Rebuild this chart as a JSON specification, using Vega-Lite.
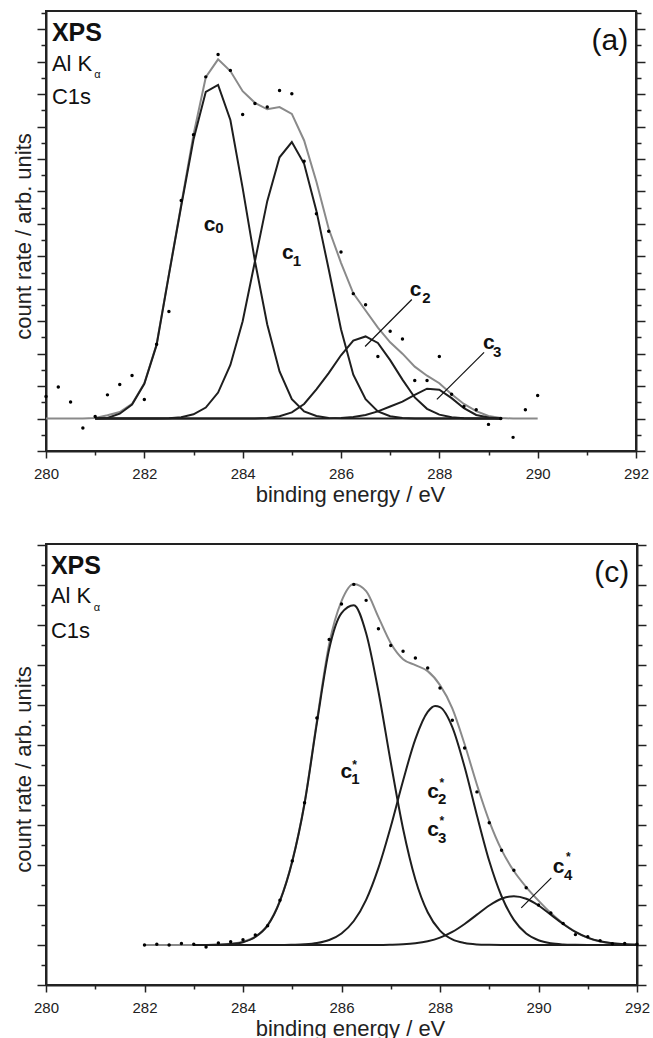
{
"$schema": "https://vega.github.io/schema/vega-lite/v6.json",
"padding": {"left": 11, "top": 10, "right": 0, "bottom": 0},
"spacing": 37,
"datasets": {
"tenv": [
{"E":280,"v":0},{"E":280.75,"v":0},{"E":281,"v":0.02},{"E":281.25,"v":0.1},{"E":281.5,"v":0.2},{"E":281.75,"v":0.45},{"E":282,"v":1.09},{"E":282.25,"v":2.29},{"E":282.5,"v":4.45},{"E":282.75,"v":6.59},{"E":283,"v":8.75},{"E":283.25,"v":10.52},{"E":283.5,"v":11.07},{"E":283.75,"v":10.71},{"E":284,"v":10.09},{"E":284.25,"v":9.73},{"E":284.5,"v":9.53},{"E":284.75,"v":9.6},{"E":285,"v":9.39},{"E":285.25,"v":8.57},{"E":285.5,"v":7.3},{"E":285.75,"v":5.85},{"E":286,"v":4.8},{"E":286.25,"v":3.86},{"E":286.5,"v":3.33},{"E":286.75,"v":2.8},{"E":287,"v":2.35},{"E":287.25,"v":2.0},{"E":287.5,"v":1.6},{"E":287.75,"v":1.32},{"E":288,"v":1.09},{"E":288.25,"v":0.75},{"E":288.5,"v":0.45},{"E":288.75,"v":0.23},{"E":289,"v":0.08},{"E":289.25,"v":0.02},{"E":289.5,"v":0},{"E":290,"v":0}
],
"tcomp": [
{"s":"c0","E":281,"v":0},{"s":"c0","E":281.25,"v":0.02},{"s":"c0","E":281.5,"v":0.15},{"s":"c0","E":281.75,"v":0.43},{"s":"c0","E":282,"v":1.07},{"s":"c0","E":282.25,"v":2.27},{"s":"c0","E":282.5,"v":4.43},{"s":"c0","E":282.75,"v":6.55},{"s":"c0","E":283,"v":8.6},{"s":"c0","E":283.25,"v":10.07},{"s":"c0","E":283.5,"v":10.28},{"s":"c0","E":283.75,"v":9.2},{"s":"c0","E":284,"v":7.1},{"s":"c0","E":284.25,"v":4.85},{"s":"c0","E":284.5,"v":2.9},{"s":"c0","E":284.75,"v":1.45},{"s":"c0","E":285,"v":0.6},{"s":"c0","E":285.25,"v":0.22},{"s":"c0","E":285.5,"v":0.08},{"s":"c0","E":285.75,"v":0.02},{"s":"c0","E":286,"v":0},{"s":"c0","E":289.25,"v":0},
{"s":"c1","E":281,"v":0},{"s":"c1","E":282.25,"v":0},{"s":"c1","E":282.5,"v":0.01},{"s":"c1","E":282.75,"v":0.04},{"s":"c1","E":283,"v":0.13},{"s":"c1","E":283.25,"v":0.34},{"s":"c1","E":283.5,"v":0.8},{"s":"c1","E":283.75,"v":1.65},{"s":"c1","E":284,"v":3.0},{"s":"c1","E":284.25,"v":4.85},{"s":"c1","E":284.5,"v":6.7},{"s":"c1","E":284.75,"v":8.05},{"s":"c1","E":285,"v":8.52},{"s":"c1","E":285.25,"v":7.85},{"s":"c1","E":285.5,"v":6.4},{"s":"c1","E":285.75,"v":4.6},{"s":"c1","E":286,"v":2.75},{"s":"c1","E":286.25,"v":1.35},{"s":"c1","E":286.5,"v":0.6},{"s":"c1","E":286.75,"v":0.22},{"s":"c1","E":287,"v":0.07},{"s":"c1","E":287.25,"v":0.02},{"s":"c1","E":287.5,"v":0},{"s":"c1","E":289.25,"v":0},
{"s":"c2","E":281,"v":0},{"s":"c2","E":284.25,"v":0},{"s":"c2","E":284.5,"v":0.02},{"s":"c2","E":284.75,"v":0.07},{"s":"c2","E":285,"v":0.19},{"s":"c2","E":285.25,"v":0.45},{"s":"c2","E":285.5,"v":0.9},{"s":"c2","E":285.75,"v":1.4},{"s":"c2","E":286,"v":1.95},{"s":"c2","E":286.25,"v":2.4},{"s":"c2","E":286.5,"v":2.53},{"s":"c2","E":286.75,"v":2.33},{"s":"c2","E":287,"v":1.8},{"s":"c2","E":287.25,"v":1.2},{"s":"c2","E":287.5,"v":0.65},{"s":"c2","E":287.75,"v":0.3},{"s":"c2","E":288,"v":0.12},{"s":"c2","E":288.25,"v":0.04},{"s":"c2","E":288.5,"v":0.01},{"s":"c2","E":288.75,"v":0},{"s":"c2","E":289.25,"v":0},
{"s":"c3","E":281,"v":0},{"s":"c3","E":285.75,"v":0},{"s":"c3","E":286,"v":0.02},{"s":"c3","E":286.25,"v":0.05},{"s":"c3","E":286.5,"v":0.11},{"s":"c3","E":286.75,"v":0.22},{"s":"c3","E":287,"v":0.37},{"s":"c3","E":287.25,"v":0.52},{"s":"c3","E":287.5,"v":0.73},{"s":"c3","E":287.75,"v":0.92},{"s":"c3","E":288,"v":0.89},{"s":"c3","E":288.25,"v":0.63},{"s":"c3","E":288.5,"v":0.32},{"s":"c3","E":288.75,"v":0.11},{"s":"c3","E":289,"v":0.03},{"s":"c3","E":289.25,"v":0}
],
"tpts": [
{"E":280,"v":0.68},{"E":280.25,"v":0.97},{"E":280.5,"v":0.51},{"E":280.75,"v":-0.29},{"E":281,"v":0.06},{"E":281.25,"v":0.73},{"E":281.5,"v":1.05},{"E":281.75,"v":1.33},{"E":282,"v":0.59},{"E":282.25,"v":2.29},{"E":282.5,"v":3.3},{"E":282.75,"v":6.72},{"E":283,"v":8.75},{"E":283.25,"v":10.53},{"E":283.5,"v":11.22},{"E":283.75,"v":10.73},{"E":284,"v":9.37},{"E":284.25,"v":9.71},{"E":284.5,"v":9.6},{"E":284.75,"v":10.11},{"E":285,"v":10.01},{"E":285.25,"v":7.93},{"E":285.5,"v":6.31},{"E":285.75,"v":5.77},{"E":286,"v":5.13},{"E":286.25,"v":3.85},{"E":286.5,"v":3.51},{"E":286.75,"v":1.91},{"E":287,"v":2.69},{"E":287.25,"v":2.45},{"E":287.5,"v":1.17},{"E":287.75,"v":1.17},{"E":288,"v":1.91},{"E":288.25,"v":0.75},{"E":288.5,"v":0.37},{"E":288.75,"v":0.27},{"E":289,"v":-0.18},{"E":289.25,"v":0.0},{"E":289.5,"v":-0.58},{"E":289.75,"v":0.27},{"E":290,"v":0.71}
],
"trules": [
{"E":287.44,"v":3.67,"E2":286.49,"v2":2.22},{"E":288.91,"v":2.04,"E2":287.95,"v2":0.59}
],
"ttext": [
{"E":280.12,"v":11.64,"t":"XPS","k":"xps"},{"E":280.12,"v":10.71,"t":"Al K","k":"n"},{"E":280.98,"v":10.49,"t":"α","k":"a"},{"E":280.12,"v":9.69,"t":"C1s","k":"n"},{"E":291.84,"v":11.36,"t":"(a)","k":"tag"},
{"E":283.21,"v":5.77,"t":"c","k":"c"},{"E":283.44,"v":5.71,"t":"0","k":"d"},
{"E":284.8,"v":4.91,"t":"c","k":"c"},{"E":285.02,"v":4.69,"t":"1","k":"d"},
{"E":287.4,"v":3.77,"t":"c","k":"c"},{"E":287.65,"v":3.55,"t":"2","k":"d"},
{"E":288.89,"v":2.13,"t":"c","k":"c"},{"E":289.09,"v":1.91,"t":"3","k":"d"}
],
"benv": [
{"E":282,"v":0},{"E":283.25,"v":0},{"E":283.5,"v":0.01},{"E":283.75,"v":0.03},{"E":284,"v":0.08},{"E":284.25,"v":0.21},{"E":284.5,"v":0.5},{"E":284.75,"v":1.11},{"E":285,"v":2.1},{"E":285.25,"v":3.56},{"E":285.5,"v":5.6},{"E":285.75,"v":7.53},{"E":286,"v":8.6},{"E":286.25,"v":9.03},{"E":286.5,"v":8.85},{"E":286.75,"v":8.2},{"E":287,"v":7.55},{"E":287.25,"v":7.15},{"E":287.5,"v":7.0},{"E":287.75,"v":6.85},{"E":288,"v":6.5},{"E":288.25,"v":5.92},{"E":288.5,"v":5.02},{"E":288.75,"v":4.01},{"E":289,"v":3.1},{"E":289.25,"v":2.38},{"E":289.5,"v":1.85},{"E":289.75,"v":1.45},{"E":290,"v":1.11},{"E":290.25,"v":0.8},{"E":290.5,"v":0.54},{"E":290.75,"v":0.33},{"E":291,"v":0.18},{"E":291.25,"v":0.09},{"E":291.5,"v":0.04},{"E":291.75,"v":0.02},{"E":292,"v":0.01}
],
"bcomp": [
{"s":"c1","E":283,"v":0},{"s":"c1","E":283.5,"v":0.007},{"s":"c1","E":283.75,"v":0.024},{"s":"c1","E":284,"v":0.07},{"s":"c1","E":284.25,"v":0.2},{"s":"c1","E":284.5,"v":0.49},{"s":"c1","E":284.75,"v":1.1},{"s":"c1","E":285,"v":2.09},{"s":"c1","E":285.25,"v":3.54},{"s":"c1","E":285.5,"v":5.55},{"s":"c1","E":285.75,"v":7.4},{"s":"c1","E":286,"v":8.3},{"s":"c1","E":286.25,"v":8.5},{"s":"c1","E":286.5,"v":7.8},{"s":"c1","E":286.75,"v":6.34},{"s":"c1","E":287,"v":4.57},{"s":"c1","E":287.25,"v":2.91},{"s":"c1","E":287.5,"v":1.64},{"s":"c1","E":287.75,"v":0.82},{"s":"c1","E":288,"v":0.36},{"s":"c1","E":288.25,"v":0.14},{"s":"c1","E":288.5,"v":0.05},{"s":"c1","E":288.75,"v":0.015},{"s":"c1","E":289,"v":0.004},{"s":"c1","E":289.25,"v":0},{"s":"c1","E":292,"v":0},
{"s":"c2","E":283,"v":0},{"s":"c2","E":284.75,"v":0},{"s":"c2","E":285,"v":0.006},{"s":"c2","E":285.25,"v":0.017},{"s":"c2","E":285.5,"v":0.049},{"s":"c2","E":285.75,"v":0.126},{"s":"c2","E":286,"v":0.29},{"s":"c2","E":286.25,"v":0.6},{"s":"c2","E":286.5,"v":1.13},{"s":"c2","E":286.75,"v":1.93},{"s":"c2","E":287,"v":2.96},{"s":"c2","E":287.25,"v":4.11},{"s":"c2","E":287.5,"v":5.15},{"s":"c2","E":287.75,"v":5.83},{"s":"c2","E":287.9,"v":5.98},{"s":"c2","E":288,"v":5.95},{"s":"c2","E":288.25,"v":5.45},{"s":"c2","E":288.5,"v":4.45},{"s":"c2","E":288.75,"v":3.24},{"s":"c2","E":289,"v":2.1},{"s":"c2","E":289.25,"v":1.22},{"s":"c2","E":289.5,"v":0.63},{"s":"c2","E":289.75,"v":0.29},{"s":"c2","E":290,"v":0.12},{"s":"c2","E":290.25,"v":0.044},{"s":"c2","E":290.5,"v":0.014},{"s":"c2","E":290.75,"v":0.004},{"s":"c2","E":291,"v":0},{"s":"c2","E":292,"v":0},
{"s":"c4","E":283,"v":0},{"s":"c4","E":286.75,"v":0},{"s":"c4","E":287,"v":0.006},{"s":"c4","E":287.25,"v":0.017},{"s":"c4","E":287.5,"v":0.042},{"s":"c4","E":287.75,"v":0.093},{"s":"c4","E":288,"v":0.184},{"s":"c4","E":288.25,"v":0.328},{"s":"c4","E":288.5,"v":0.527},{"s":"c4","E":288.75,"v":0.76},{"s":"c4","E":289,"v":0.989},{"s":"c4","E":289.25,"v":1.158},{"s":"c4","E":289.5,"v":1.22},{"s":"c4","E":289.75,"v":1.158},{"s":"c4","E":290,"v":0.989},{"s":"c4","E":290.25,"v":0.76},{"s":"c4","E":290.5,"v":0.527},{"s":"c4","E":290.75,"v":0.328},{"s":"c4","E":291,"v":0.184},{"s":"c4","E":291.25,"v":0.093},{"s":"c4","E":291.5,"v":0.042},{"s":"c4","E":291.75,"v":0.017},{"s":"c4","E":292,"v":0.006}
],
"bpts": [
{"E":282,"v":0},{"E":282.25,"v":0.02},{"E":282.5,"v":0},{"E":282.75,"v":0.04},{"E":283,"v":0.02},{"E":283.25,"v":-0.05},{"E":283.5,"v":0.05},{"E":283.75,"v":0.08},{"E":284,"v":0.13},{"E":284.25,"v":0.25},{"E":284.5,"v":0.48},{"E":284.75,"v":1.12},{"E":285,"v":2.1},{"E":285.25,"v":3.56},{"E":285.5,"v":5.68},{"E":285.75,"v":7.64},{"E":286,"v":8.53},{"E":286.25,"v":9.02},{"E":286.5,"v":8.62},{"E":286.75,"v":7.91},{"E":287,"v":7.49},{"E":287.25,"v":7.35},{"E":287.5,"v":7.18},{"E":287.75,"v":6.93},{"E":288,"v":6.43},{"E":288.25,"v":5.62},{"E":288.5,"v":4.93},{"E":288.75,"v":3.83},{"E":289,"v":3.06},{"E":289.25,"v":2.37},{"E":289.5,"v":1.87},{"E":289.75,"v":1.43},{"E":290,"v":1.0},{"E":290.25,"v":0.8},{"E":290.5,"v":0.54},{"E":290.75,"v":0.26},{"E":291,"v":0.21},{"E":291.25,"v":0.11},{"E":291.5,"v":0.03},{"E":291.75,"v":0.04},{"E":292,"v":0.02}
],
"brules": [
{"E":290.26,"v":1.68,"E2":289.65,"v2":0.93}
],
"btext": [
{"E":280.1,"v":9.28,"t":"XPS","k":"xps"},{"E":280.1,"v":8.55,"t":"Al K","k":"n"},{"E":280.97,"v":8.35,"t":"α","k":"a"},{"E":280.1,"v":7.68,"t":"C1s","k":"n"},{"E":291.84,"v":9.08,"t":"(c)","k":"tag"},
{"E":285.98,"v":4.18,"t":"c","k":"c"},{"E":286.2,"v":4.03,"t":"1","k":"d"},{"E":286.22,"v":4.4,"t":"*","k":"s"},
{"E":287.74,"v":3.68,"t":"c","k":"c"},{"E":287.96,"v":3.53,"t":"2","k":"d"},{"E":287.99,"v":3.95,"t":"*","k":"s"},
{"E":287.74,"v":2.73,"t":"c","k":"c"},{"E":287.96,"v":2.55,"t":"3","k":"d"},{"E":287.99,"v":3.0,"t":"*","k":"s"},
{"E":290.29,"v":1.8,"t":"c","k":"c"},{"E":290.52,"v":1.63,"t":"4","k":"d"},{"E":290.56,"v":2.1,"t":"*","k":"s"}
]
},
"vconcat": [
{
"width": 590, "height": 440,
"resolve": {"axis": {"x": "independent", "y": "independent"}},
"layer": [
{"data": {"name": "tenv"}, "mark": {"type": "line", "color": "#8a8a8a", "strokeWidth": 2, "interpolate": "linear"},
 "encoding": {
  "x": {"field": "E", "type": "quantitative", "scale": {"domain": [280, 292], "nice": false, "zero": false}, "axis": {"orient": "bottom", "values": [280,282,284,286,288,290,292], "tickSize": 7, "labelPadding": 8, "labelFlush": false, "format": "d", "title": "binding energy / eV", "titlePadding": 3, "titleX": 304}},
  "y": {"field": "v", "type": "quantitative", "scale": {"domain": [-1, 12.56], "nice": false, "zero": false}, "axis": {"orient": "left", "values": [-1,0,1,2,3,4,5,6,7,8,9,10,11,12], "tickSize": 9, "labels": false, "title": "count rate / arb. units", "titlePadding": 1, "titleY": 225}}
 }},
{"data": {"name": "tcomp"}, "mark": {"type": "line", "color": "#1e1e1e", "strokeWidth": 2, "interpolate": "linear"},
 "encoding": {
  "x": {"field": "E", "type": "quantitative", "scale": {"domain": [280, 292], "nice": false, "zero": false}, "axis": {"orient": "bottom", "values": [281,283,285,287,289,291], "tickSize": 4, "labels": false, "domain": false, "title": null}},
  "y": {"field": "v", "type": "quantitative", "scale": {"domain": [-1, 12.56], "nice": false, "zero": false}, "axis": {"orient": "left", "values": [-0.5,0.5,1.5,2.5,3.5,4.5,5.5,6.5,7.5,8.5,9.5,10.5,11.5,12.5], "tickSize": 5, "labels": false, "domain": false, "title": null}},
  "detail": {"field": "s", "type": "nominal"}
 }},
{"data": {"name": "tpts"}, "mark": {"type": "circle", "size": 12, "color": "#000", "opacity": 1},
 "encoding": {
  "x": {"field": "E", "type": "quantitative", "scale": {"domain": [280, 292], "nice": false, "zero": false}, "axis": null},
  "y": {"field": "v", "type": "quantitative", "scale": {"domain": [-1, 12.56], "nice": false, "zero": false}, "axis": {"orient": "right", "values": [-1,0,1,2,3,4,5,6,7,8,9,10,11,12], "tickSize": 9, "labels": false, "title": null}}
 }},
{"data": {"name": "trules"}, "mark": {"type": "rule", "color": "#111", "strokeWidth": 1.2},
 "encoding": {
  "x": {"field": "E", "type": "quantitative", "scale": {"domain": [280, 292], "nice": false, "zero": false}, "axis": null},
  "y": {"field": "v", "type": "quantitative", "scale": {"domain": [-1, 12.56], "nice": false, "zero": false}, "axis": {"orient": "right", "values": [-0.5,0.5,1.5,2.5,3.5,4.5,5.5,6.5,7.5,8.5,9.5,10.5,11.5,12.5], "tickSize": 5, "labels": false, "domain": false, "title": null}},
  "x2": {"field": "E2"}, "y2": {"field": "v2"}
 }},
{"data": {"name": "ttext"}, "transform": [{"filter": "datum.k == 'xps'"}], "mark": {"type": "text", "align": "left", "baseline": "alphabetic", "fontSize": 25, "fontWeight": "bold", "color": "#111"},
 "encoding": {"x": {"field": "E", "type": "quantitative", "axis": null}, "y": {"field": "v", "type": "quantitative", "axis": null}, "text": {"field": "t"}}},
{"data": {"name": "ttext"}, "transform": [{"filter": "datum.k == 'n'"}], "mark": {"type": "text", "align": "left", "baseline": "alphabetic", "fontSize": 22, "color": "#111"},
 "encoding": {"x": {"field": "E", "type": "quantitative", "axis": null}, "y": {"field": "v", "type": "quantitative", "axis": null}, "text": {"field": "t"}}},
{"data": {"name": "ttext"}, "transform": [{"filter": "datum.k == 'a'"}], "mark": {"type": "text", "align": "left", "baseline": "alphabetic", "fontSize": 11, "color": "#111"},
 "encoding": {"x": {"field": "E", "type": "quantitative", "axis": null}, "y": {"field": "v", "type": "quantitative", "axis": null}, "text": {"field": "t"}}},
{"data": {"name": "ttext"}, "transform": [{"filter": "datum.k == 'tag'"}], "mark": {"type": "text", "align": "right", "baseline": "alphabetic", "fontSize": 30, "color": "#111"},
 "encoding": {"x": {"field": "E", "type": "quantitative", "axis": null}, "y": {"field": "v", "type": "quantitative", "axis": null}, "text": {"field": "t"}}},
{"data": {"name": "ttext"}, "transform": [{"filter": "datum.k == 'c'"}], "mark": {"type": "text", "align": "left", "baseline": "alphabetic", "fontSize": 21, "fontWeight": "bold", "color": "#111"},
 "encoding": {"x": {"field": "E", "type": "quantitative", "axis": null}, "y": {"field": "v", "type": "quantitative", "axis": null}, "text": {"field": "t"}}},
{"data": {"name": "ttext"}, "transform": [{"filter": "datum.k == 'd'"}], "mark": {"type": "text", "align": "left", "baseline": "alphabetic", "fontSize": 15, "fontWeight": "bold", "color": "#111"},
 "encoding": {"x": {"field": "E", "type": "quantitative", "axis": null}, "y": {"field": "v", "type": "quantitative", "axis": null}, "text": {"field": "t"}}}
]
},
{
"width": 591, "height": 441,
"resolve": {"axis": {"x": "independent", "y": "independent"}},
"layer": [
{"data": {"name": "benv"}, "mark": {"type": "line", "color": "#8a8a8a", "strokeWidth": 2, "interpolate": "monotone"},
 "encoding": {
  "x": {"field": "E", "type": "quantitative", "scale": {"domain": [280, 292], "nice": false, "zero": false}, "axis": {"orient": "bottom", "values": [280,282,284,286,288,290,292], "tickSize": 7, "labelPadding": 8, "labelFlush": false, "format": "d", "title": "binding energy / eV", "titlePadding": 3, "titleX": 304}},
  "y": {"field": "v", "type": "quantitative", "scale": {"domain": [-1, 10.03], "nice": false, "zero": false}, "axis": {"orient": "left", "values": [-1,0,1,2,3,4,5,6,7,8,9,10], "tickSize": 9, "labels": false, "title": "count rate / arb. units", "titlePadding": 1, "titleY": 225}}
 }},
{"data": {"name": "bcomp"}, "mark": {"type": "line", "color": "#1e1e1e", "strokeWidth": 2, "interpolate": "monotone"},
 "encoding": {
  "x": {"field": "E", "type": "quantitative", "scale": {"domain": [280, 292], "nice": false, "zero": false}, "axis": {"orient": "bottom", "values": [281,283,285,287,289,291], "tickSize": 4, "labels": false, "domain": false, "title": null}},
  "y": {"field": "v", "type": "quantitative", "scale": {"domain": [-1, 10.03], "nice": false, "zero": false}, "axis": {"orient": "left", "values": [-0.5,0.5,1.5,2.5,3.5,4.5,5.5,6.5,7.5,8.5,9.5], "tickSize": 5, "labels": false, "domain": false, "title": null}},
  "detail": {"field": "s", "type": "nominal"}
 }},
{"data": {"name": "bpts"}, "mark": {"type": "circle", "size": 12, "color": "#000", "opacity": 1},
 "encoding": {
  "x": {"field": "E", "type": "quantitative", "scale": {"domain": [280, 292], "nice": false, "zero": false}, "axis": null},
  "y": {"field": "v", "type": "quantitative", "scale": {"domain": [-1, 10.03], "nice": false, "zero": false}, "axis": {"orient": "right", "values": [-1,0,1,2,3,4,5,6,7,8,9,10], "tickSize": 9, "labels": false, "title": null}}
 }},
{"data": {"name": "brules"}, "mark": {"type": "rule", "color": "#111", "strokeWidth": 1.2},
 "encoding": {
  "x": {"field": "E", "type": "quantitative", "scale": {"domain": [280, 292], "nice": false, "zero": false}, "axis": null},
  "y": {"field": "v", "type": "quantitative", "scale": {"domain": [-1, 10.03], "nice": false, "zero": false}, "axis": {"orient": "right", "values": [-0.5,0.5,1.5,2.5,3.5,4.5,5.5,6.5,7.5,8.5,9.5], "tickSize": 5, "labels": false, "domain": false, "title": null}},
  "x2": {"field": "E2"}, "y2": {"field": "v2"}
 }},
{"data": {"name": "btext"}, "transform": [{"filter": "datum.k == 'xps'"}], "mark": {"type": "text", "align": "left", "baseline": "alphabetic", "fontSize": 25, "fontWeight": "bold", "color": "#111"},
 "encoding": {"x": {"field": "E", "type": "quantitative", "axis": null}, "y": {"field": "v", "type": "quantitative", "axis": null}, "text": {"field": "t"}}},
{"data": {"name": "btext"}, "transform": [{"filter": "datum.k == 'n'"}], "mark": {"type": "text", "align": "left", "baseline": "alphabetic", "fontSize": 22, "color": "#111"},
 "encoding": {"x": {"field": "E", "type": "quantitative", "axis": null}, "y": {"field": "v", "type": "quantitative", "axis": null}, "text": {"field": "t"}}},
{"data": {"name": "btext"}, "transform": [{"filter": "datum.k == 'a'"}], "mark": {"type": "text", "align": "left", "baseline": "alphabetic", "fontSize": 11, "color": "#111"},
 "encoding": {"x": {"field": "E", "type": "quantitative", "axis": null}, "y": {"field": "v", "type": "quantitative", "axis": null}, "text": {"field": "t"}}},
{"data": {"name": "btext"}, "transform": [{"filter": "datum.k == 'tag'"}], "mark": {"type": "text", "align": "right", "baseline": "alphabetic", "fontSize": 30, "color": "#111"},
 "encoding": {"x": {"field": "E", "type": "quantitative", "axis": null}, "y": {"field": "v", "type": "quantitative", "axis": null}, "text": {"field": "t"}}},
{"data": {"name": "btext"}, "transform": [{"filter": "datum.k == 'c'"}], "mark": {"type": "text", "align": "left", "baseline": "alphabetic", "fontSize": 21, "fontWeight": "bold", "color": "#111"},
 "encoding": {"x": {"field": "E", "type": "quantitative", "axis": null}, "y": {"field": "v", "type": "quantitative", "axis": null}, "text": {"field": "t"}}},
{"data": {"name": "btext"}, "transform": [{"filter": "datum.k == 'd'"}], "mark": {"type": "text", "align": "left", "baseline": "alphabetic", "fontSize": 15, "fontWeight": "bold", "color": "#111"},
 "encoding": {"x": {"field": "E", "type": "quantitative", "axis": null}, "y": {"field": "v", "type": "quantitative", "axis": null}, "text": {"field": "t"}}},
{"data": {"name": "btext"}, "transform": [{"filter": "datum.k == 's'"}], "mark": {"type": "text", "align": "left", "baseline": "alphabetic", "fontSize": 12, "fontWeight": "bold", "color": "#111"},
 "encoding": {"x": {"field": "E", "type": "quantitative", "axis": null}, "y": {"field": "v", "type": "quantitative", "axis": null}, "text": {"field": "t"}}}
]
}
],
"config": {
 "view": {"stroke": "#222", "strokeWidth": 2},
 "font": "Liberation Sans",
 "axis": {"grid": false, "domainColor": "#222", "domainWidth": 2, "tickColor": "#222", "tickWidth": 1.5, "labelFont": "Liberation Sans", "labelFontSize": 15, "labelColor": "#222", "titleFont": "Liberation Sans", "titleFontSize": 22, "titleFontWeight": "normal", "titleColor": "#222"},
 "text": {"font": "Liberation Sans"}
}
}
